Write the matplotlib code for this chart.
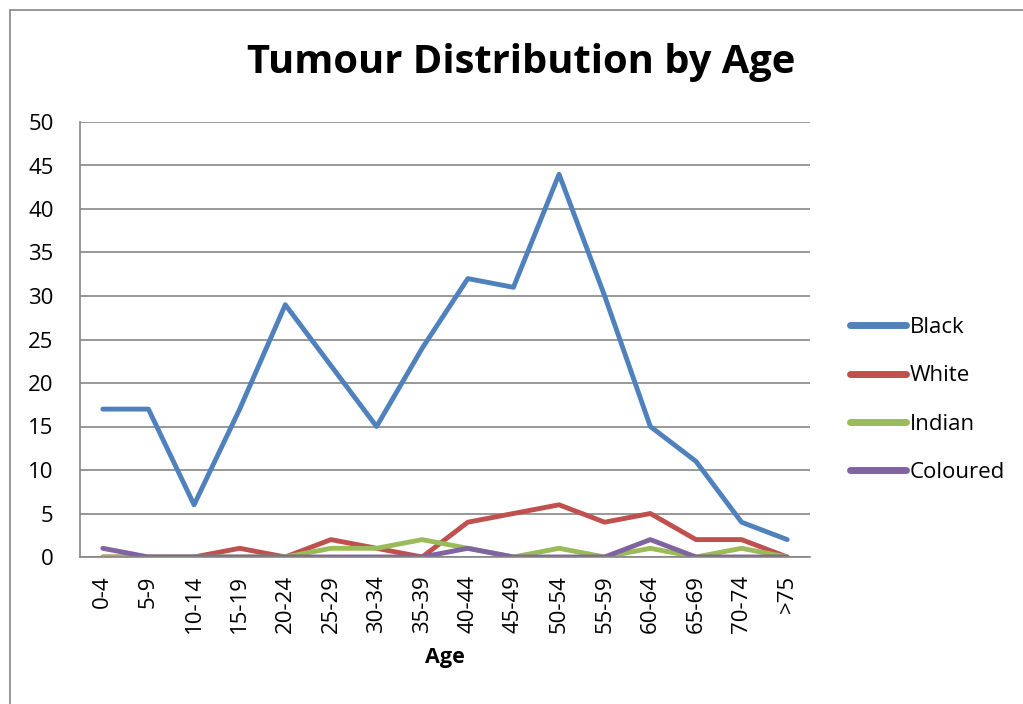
import matplotlib
matplotlib.use("Agg")
import matplotlib.pyplot as plt
import numpy as np

ages = ["0-4", "5-9", "10-14", "15-19", "20-24", "25-29", "30-34", "35-39",
        "40-44", "45-49", "50-54", "55-59", "60-64", "65-69", "70-74", ">75"]
black = [17, 17, 6, 17, 29, 22, 15, 24, 32, 31, 44, 30, 15, 11, 4, 2]
white = [0, 0, 0, 1, 0, 2, 1, 0, 4, 5, 6, 4, 5, 2, 2, 0]
indian = [0, 0, 0, 0, 0, 1, 1, 2, 1, 0, 1, 0, 1, 0, 1, 0]
coloured = [1, 0, 0, 0, 0, 0, 0, 0, 1, 0, 0, 0, 2, 0, 0, 0]

series = [("Black", black, "#4F81BD"), ("White", white, "#C0504D"),
          ("Indian", indian, "#9BBB59"), ("Coloured", coloured, "#8064A2")]

plt.rcParams['font.family'] = ['Open Sans', 'DejaVu Sans']

fig = plt.figure(figsize=(10.23, 7.04), dpi=100)
# outer chart frame
fig.patches.append(plt.Rectangle((10 / 1023, -0.05), 1.1, 0.05 + 694 / 704,
                                 transform=fig.transFigure, fill=False,
                                 edgecolor="#868686", linewidth=1.2))

ax = fig.add_axes([80 / 1023, 147 / 704, 730 / 1023, 435 / 704])
x = np.arange(len(ages))
for name, vals, col in series:
    ax.plot(x, vals, color=col, linewidth=3.5, label=name,
            solid_joinstyle="round", solid_capstyle="round")

ax.set_xlim(-0.5, len(ages) - 0.5)
ax.set_ylim(0, 50)
ax.set_yticks(range(0, 51, 5))
ax.yaxis.grid(True, color="#868686", linewidth=1.2)
ax.set_axisbelow(True)
ax.set_xticks(x)
ax.set_xticklabels(ages, rotation=90, fontsize=16)
ax.tick_params(axis="x", length=0, pad=13)
ax.tick_params(axis="y", labelsize=16, length=0, pad=19)
for s in ["top", "right"]:
    ax.spines[s].set_visible(False)
for s in ["left", "bottom"]:
    ax.spines[s].set_color("#868686")
    ax.spines[s].set_linewidth(1.2)

ax.set_xlabel("Age", fontsize=15.5, fontweight="bold", labelpad=10)
fig.text(521 / 1023, 1 - 62 / 704, "Tumour Distribution by Age", fontsize=28.7,
         fontweight="bold", ha="center", va="center")

leg = ax.legend(loc="center left", bbox_to_anchor=(850 / 1023, 1 - 400 / 704),
                bbox_transform=fig.transFigure, frameon=False, fontsize=16,
                handlelength=2.5, labelspacing=1.23, handletextpad=0.2,
                borderpad=0, borderaxespad=0)
for h in leg.get_lines():
    h.set_linewidth(5)

fig.savefig("out.png", dpi=100)
